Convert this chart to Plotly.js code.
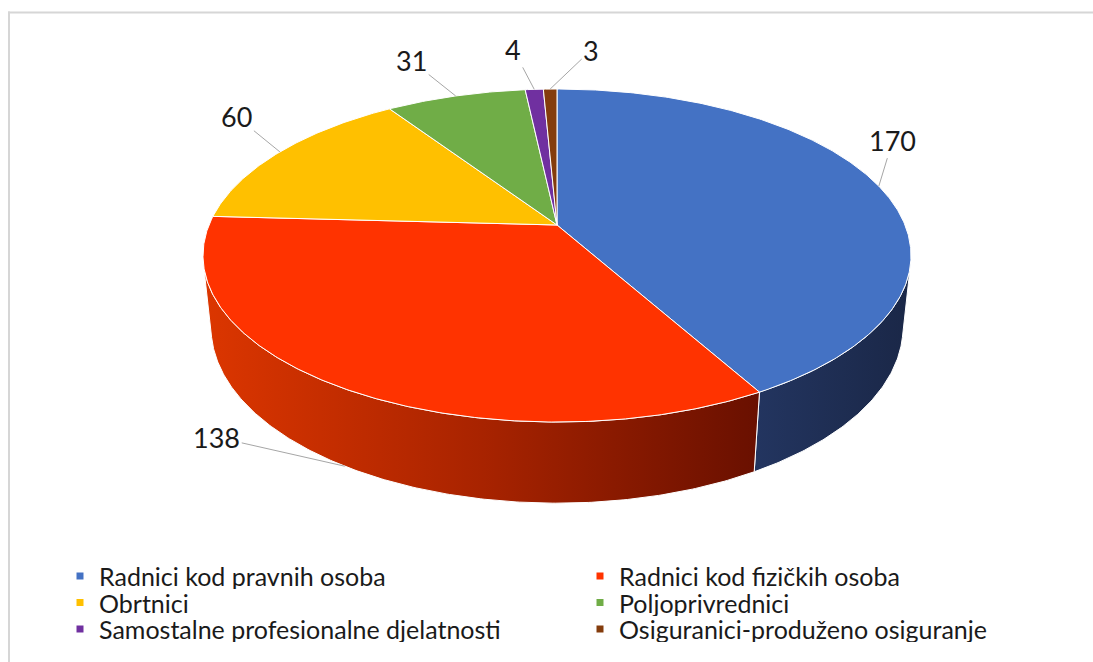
<!DOCTYPE html>
<html><head><meta charset="utf-8">
<script src="https://cdn.plot.ly/plotly-3.0.1.min.js"></script>
<style>html,body{margin:0;padding:0;background:#fff}#chart{width:1093px;height:662px}</style>
</head><body><div id="chart"></div>
<script>
// ---------- data ----------
const categories = ["Radnici kod pravnih osoba", "Radnici kod fizičkih osoba", "Obrtnici", "Poljoprivrednici", "Samostalne profesionalne djelatnosti", "Osiguranici-produženo osiguranje"];
const values = [170, 138, 60, 31, 4, 3];
const topColors = ["#4472C4", "#FF3300", "#FFC000", "#70AD47", "#7030A0", "#843C0C"];
const wallColors = [
  [[0, "#233560"], [1, "#1A2747"]],
  [[0, "#DC3600"], [0.5, "#A82300"], [1, "#691000"]],
  [[0, "#C79600"], [1, "#8A6800"]],
  [[0, "#578A36"], [1, "#3C6024"]],
  [[0, "#58257E"], [1, "#3D1A58"]],
  [[0, "#6A300A"], [1, "#4A2207"]]
];
// label offsets (px) from the leader-line anchor to the label
const labelOffsets = [[14, -46], [-128, -29], [-43, -35], [-44, -35], [-21, -40], [41, -39]];

// ---------- 3D view (layout) ----------
const V = {cx: 557, cy: 225, A: 348, sinA: 0.4624, cosA: 0.8867, rd: 0.2067, h: 0.235};
const visFrom = 103.5, visTo = 256.5;   // front-facing wall range (deg)
function proj3(X, Y, Z) {
  const dn = 1 - (Y * V.sinA + Z * V.cosA) * V.rd;
  return [V.cx + V.A * X / dn, V.cy - V.A * (Y * V.cosA - Z * V.sinA) / dn];
}
function projAng(deg, Y) {
  const p = deg * Math.PI / 180;
  return proj3(Math.sin(p), Y, -Math.cos(p));
}
function arc(a1, a2, Y) {
  const n = Math.max(2, Math.ceil(Math.abs(a2 - a1) / 0.5));
  const pts = [];
  for (let i = 0; i <= n; i++) pts.push(projAng(a1 + (a2 - a1) * i / n, Y));
  return pts;
}

const total = values.reduce((a, b) => a + b, 0);
const starts = [], ends = [];
let acc = 0;
values.forEach(v => { starts.push(acc / total * 360); acc += v; ends.push(acc / total * 360); });

const traces = [];
// walls
values.forEach((v, i) => {
  const s = Math.max(starts[i], visFrom), e = Math.min(ends[i], visTo);
  if (e <= s) return;
  const top = arc(s, e, 0), bot = arc(e, s, -V.h);
  const pts = top.concat(bot); pts.push(top[0]);
  traces.push({
    type: "scatter", mode: "lines", x: pts.map(p => p[0]), y: pts.map(p => p[1]),
    fill: "toself", fillcolor: wallColors[i][0][1],
    fillgradient: {type: "horizontal", colorscale: wallColors[i]},
    line: {color: "#FFFFFF", width: 1}, hoverinfo: "skip", showlegend: false
  });
});
// top faces
const C = proj3(0, 0, 0);
values.forEach((v, i) => {
  const pts = [C].concat(arc(starts[i], ends[i], 0)); pts.push(C);
  traces.push({
    type: "scatter", mode: "lines", x: pts.map(p => p[0]), y: pts.map(p => p[1]),
    fill: "toself", fillcolor: topColors[i],
    line: {color: "#FFFFFF", width: 1}, hoverinfo: "skip", showlegend: false, name: categories[i]
  });
});

// data labels with leader lines
const annotations = values.map((v, i) => {
  const mid = (starts[i] + ends[i]) / 2;
  const onWall = mid > visFrom && mid < visTo;
  const a = projAng(mid, onWall ? -V.h : 0);
  return {
    x: a[0], y: a[1], xref: "x", yref: "y", text: String(v),
    showarrow: true, arrowhead: 0, arrowwidth: 1, arrowcolor: "#A6A6A6", standoff: 0,
    ax: labelOffsets[i][0], ay: labelOffsets[i][1],
    font: {family: "Lato, 'Open Sans', sans-serif", size: 27, color: "#1A1A1A"}
  };
});

// frame (top and left edges only are inside the picture)
const shapes = [
  {type: "line", xref: "paper", yref: "paper", x0: 8 / 1093, x1: 1.05, y0: 1 - 12.5 / 662, y1: 1 - 12.5 / 662,
    line: {color: "#D6D6D6", width: 2}, layer: "below"},
  {type: "line", xref: "paper", yref: "paper", x0: 9 / 1093, x1: 9 / 1093, y0: 1 - 11.5 / 662, y1: -0.05,
    line: {color: "#D6D6D6", width: 2}, layer: "below"}
];
// legend (two columns)
const legCol = [80, 600], legRow0 = 576, legRowH = 26.5;
categories.forEach((c, i) => {
  const col = i % 2, row = Math.floor(i / 2);
  const lx = legCol[col], ly = legRow0 + row * legRowH;
  shapes.push({type: "rect", xref: "x", yref: "y", x0: lx - 3.5, x1: lx + 3.5, y0: ly - 3.5, y1: ly + 3.5,
    fillcolor: topColors[i], line: {width: 0}});
  annotations.push({x: lx + 18, y: ly, xref: "x", yref: "y", text: c, showarrow: false,
    xanchor: "left", yanchor: "middle", height: 26, borderpad: 0,
    font: {family: "Lato, 'Open Sans', sans-serif", size: 25, color: "#1A1A1A"}});
});

const layout = {
  width: 1093, height: 662, margin: {l: 0, r: 0, t: 0, b: 0},
  paper_bgcolor: "#FFFFFF", plot_bgcolor: "#FFFFFF", showlegend: false,
  xaxis: {range: [0, 1093], visible: false, fixedrange: true},
  yaxis: {range: [662, 0], visible: false, fixedrange: true},
  shapes: shapes, annotations: annotations
};
Plotly.newPlot("chart", traces, layout, {displayModeBar: false, staticPlot: true});
</script></body></html>
